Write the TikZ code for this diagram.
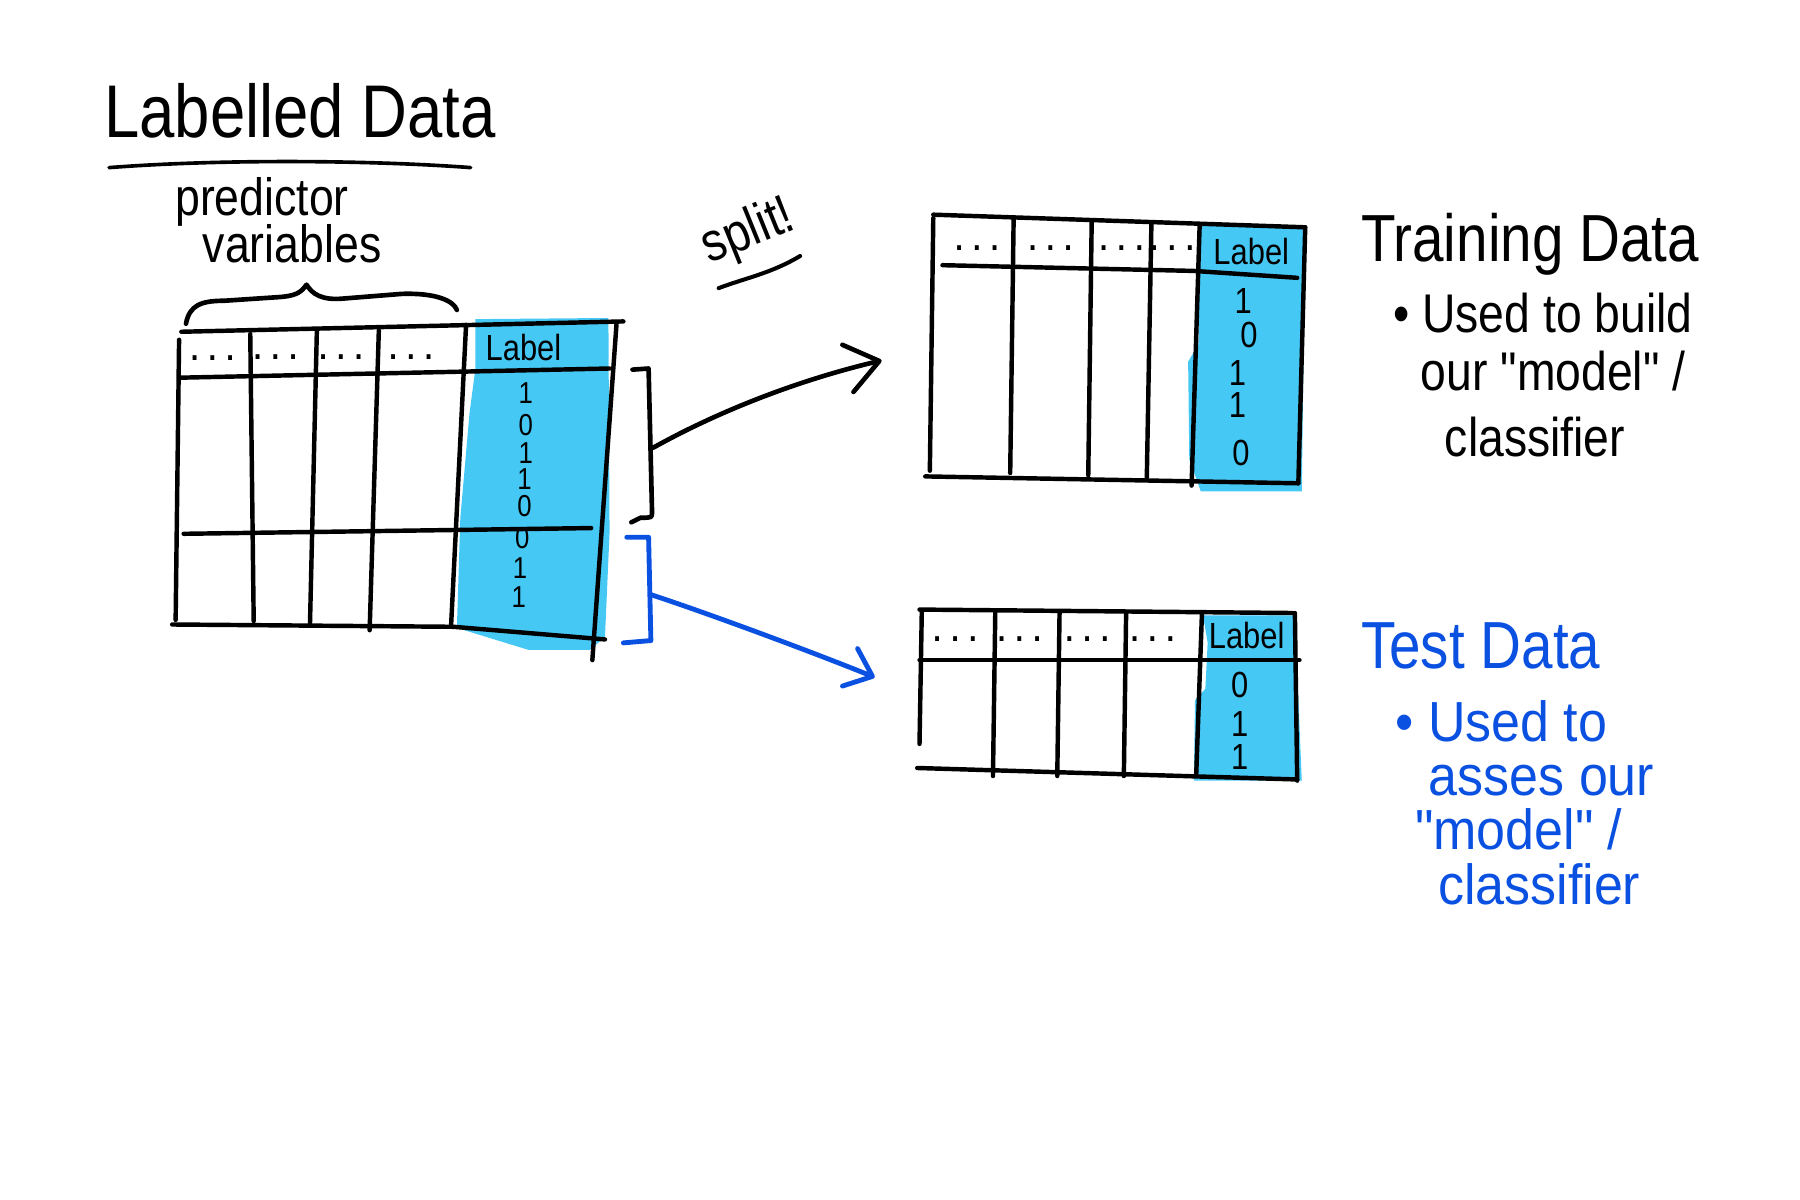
\documentclass[tikz,border=0pt]{standalone}
\usepackage{fontspec}
\newfontfamily\hand{Liberation Sans}[FakeStretch=0.85]
\newfontfamily\handw{Liberation Sans}[FakeStretch=0.92]
\usetikzlibrary{arrows.meta}
\definecolor{inkblue}{RGB}{10,80,225}
\definecolor{fillcyan}{RGB}{70,200,245}
\begin{document}
\begin{tikzpicture}[x=0.01cm,y=-0.01cm,line cap=round,line join=round,
  grid/.style={line width=1.1pt,black},
  ink/.style={line width=1.15pt,black},
  bink/.style={line width=1.2pt,inkblue},
  cyanfill/.style={fill=fillcyan,draw=none},
  hdrtxt/.style={font=\hand\fontsize{9}{10}\selectfont,inner sep=0pt},
  dots/.style={font=\hand\fontsize{8}{9}\selectfont\bfseries,inner sep=0pt},
  dig/.style={font=\hand\fontsize{9}{10}\selectfont,inner sep=0pt},
  sdig/.style={font=\hand\fontsize{7.5}{8}\selectfont,inner sep=0pt},
  bigtitle/.style={font=\hand\fontsize{18.5}{22}\selectfont,anchor=base west,inner sep=0pt},
  sidetitle/.style={font=\hand\fontsize{16.5}{20}\selectfont,anchor=base west,inner sep=0pt},
  note/.style={font=\hand\fontsize{13.5}{16}\selectfont,anchor=base west,inner sep=0pt},
  bnote/.style={font=\handw\fontsize{14}{16}\selectfont,anchor=base west,inner sep=0pt,text=inkblue}]
\useasboundingbox (0,0) rectangle (1568,1045);

% ---------- title ----------
\node[bigtitle] (title) at (90,120) {Labelled Data};
\draw[line width=0.9pt] (95,146) .. controls (200,138) and (330,140) .. (410,146);
\node[note,font=\hand\fontsize{13}{15}\selectfont,text depth=0pt] (pred1) at (152,188) {predictor};
\node[note,font=\hand\fontsize{13}{15}\selectfont] (pred2) at (176,229) {variables};
\draw[ink] (162,282) .. controls (165,266) and (175,262) .. (195,262) -- (240,259)
  .. controls (258,258) and (262,255) .. (267,248)
  .. controls (272,256) and (280,262) .. (300,260) -- (350,256)
  .. controls (380,255) and (395,262) .. (398,270);

% ---------- big table ----------
\fill[cyanfill] (414,287) -- (414,278) -- (530,277) -- (531,464) -- (527,555) -- (514,566)
  -- (460,566) -- (398,547) -- (401,451) -- (409,360) -- (414,322) -- cycle;
\draw[grid] (158,289) -- (543,280);
\draw[grid] (157,329) -- (531,321);
\draw[grid] (160,465) -- (515,460);
\draw[grid] (150,544) -- (395,546) -- (527,557);
\draw[grid] (156,296) -- (153,540);
\draw[grid] (218,291) -- (221,541);
\draw[grid] (276,289) -- (270,545);
\draw[grid] (330,288) -- (322,549);
\draw[grid] (406,283) -- (393,544);
\draw[grid] (537,283) -- (516,575);
\node[dots] (bd1) at (185,312) {. . .};
\node[dots] (bd2) at (240,311) {. . .};
\node[dots] (bd3) at (297,311) {. . .};
\node[dots] (bd4) at (358,311) {. . .};
\node[hdrtxt] (blab) at (456,303) {Label};
\node[sdig] (b1) at (458,342) {1};
\node[sdig] (b2) at (458,370) {0};
\node[sdig] (b3) at (458,395) {1};
\node[sdig] (b4) at (457,417) {1};
\node[sdig] (b5) at (457,441) {0};
\node[sdig] (b6) at (455,469) {0};
\node[sdig] (b7) at (453,495) {1};
\node[sdig] (b8) at (452,520) {1};

% ---------- brackets and arrows ----------
\draw[ink] (551,322) -- (565,321) -- (568,446) .. controls (568,451) .. (558,451) -- (550,455);
\draw[bink] (546,468) -- (565,468) -- (567,558) -- (543,560);
\coordinate (brTrain) at (569,390);
\coordinate (trainIn) at (768,314);
\coordinate (brTest) at (567,518);
\coordinate (testIn) at (762,590);
\draw[ink,-{Straight Barb[length=8pt,width=12pt,round]}] (brTrain) .. controls (630,356) and (700,330) .. (trainIn);
\draw[bink,-{Straight Barb[length=6pt,width=10pt,round]}] (brTest) .. controls (610,532) and (700,565) .. (testIn);
\node[font=\hand\fontsize{13.5}{16}\selectfont,rotate=22,inner sep=0pt] (split) at (652,203) {split!};
\draw[line width=1pt] (626,251) .. controls (650,242) and (672,238) .. (697,223);

% ---------- training table ----------
\fill[cyanfill] (1045,196) -- (1137,196) -- (1134,428) -- (1046,428) -- (1036,400) -- (1035,315) -- (1044,300) -- cycle;
\draw[grid] (813,187) -- (1137,198);
\draw[grid] (821,231) -- (1040,236) -- (1130,242);
\draw[grid] (806,415) -- (1131,421);
\draw[grid] (813,190) -- (810,410);
\draw[grid] (883,190) -- (880,412);
\draw[grid] (951,192) -- (948,414);
\draw[grid] (1003,195) -- (999,416);
\draw[grid] (1045,197) -- (1038,423);
\draw[grid] (1137,198) -- (1131,421);
\node[dots] (td1) at (851,216) {. . .};
\node[dots] (td2) at (915,216) {. . .};
\node[dots] (td3) at (977,216) {. . .};
\node[dots] (td4) at (1021,216) {. . .};
\node[hdrtxt] (tlab) at (1090,219) {Label};
\node[dig] (t1) at (1083,262) {1};
\node[dig] (t2) at (1088,292) {0};
\node[dig] (t3) at (1078,325) {1};
\node[dig] (t4) at (1078,353) {1};
\node[dig] (t5) at (1081,395) {0};

% ---------- test table ----------
\fill[cyanfill] (1048,536) -- (1128,536) -- (1134,680) -- (1040,680) -- (1041,610) -- (1050,600) -- (1052,560) -- cycle;
\draw[grid] (801,531) -- (1126,534);
\draw[grid] (801,575) -- (1132,575);
\draw[grid] (799,669) -- (1130,679);
\draw[grid] (803,532) -- (801,648);
\draw[grid] (867,533) -- (865,676);
\draw[grid] (923,533) -- (921,676);
\draw[grid] (981,533) -- (979,676);
\draw[grid] (1047,535) -- (1042,676);
\draw[grid] (1128,534) -- (1130,680);
\node[dots] (sd1) at (832,557) {. . .};
\node[dots] (sd2) at (888,557) {. . .};
\node[dots] (sd3) at (947,557) {. . .};
\node[dots] (sd4) at (1004,557) {. . .};
\node[hdrtxt] (slab) at (1086,554) {Label};
\node[dig] (s1) at (1080,597) {0};
\node[dig] (s2) at (1080,631) {1};
\node[dig] (s3) at (1080,659) {1};

% ---------- side notes ----------
\node[sidetitle] (trainT) at (1185,228) {Training Data};
\node[note] (tr1) at (1213,290) {• Used to build};
\node[note] (tr2) at (1237,340) {our "model" /};
\node[note] (tr3) at (1258,398) {classifier};

\node[sidetitle,text=inkblue] (testT) at (1185,582) {Test Data};
\node[bnote] (te1) at (1215,646) {• Used to};
\node[bnote] (te2) at (1244,693) {asses our};
\node[bnote] (te3) at (1232,740) {"model" /};
\node[bnote] (te4) at (1252,788) {classifier};
\end{tikzpicture}
\end{document}
